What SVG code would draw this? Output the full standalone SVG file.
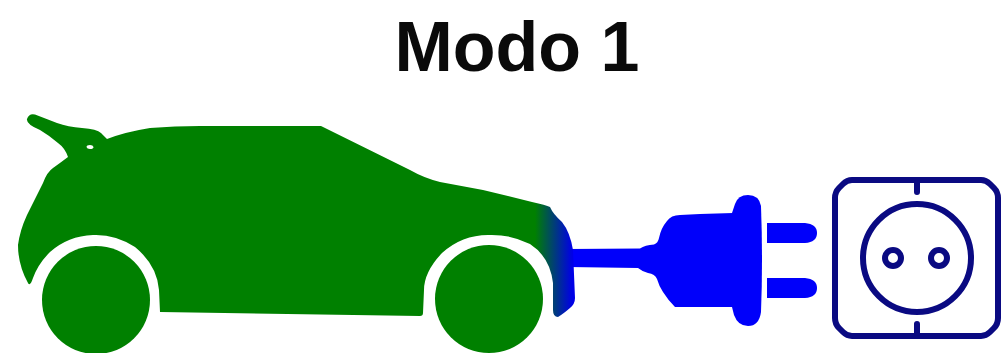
<svg xmlns="http://www.w3.org/2000/svg" width="1008" height="353" viewBox="0 0 1008 353">
<style>
.title{font-family:"Liberation Sans",Arial,sans-serif;font-weight:700;font-size:70px;fill:#0a0a0a}
.green{fill:#008000}
.blue{fill:#0000fa}
.navy{fill:none;stroke:#0a0a82;stroke-width:6;stroke-linecap:round;stroke-linejoin:round}
</style>
<defs>
<linearGradient id="carGrad" gradientUnits="userSpaceOnUse" x1="535" y1="0" x2="572" y2="0">
<stop offset="0" stop-color="#008000"/>
<stop offset="1" stop-color="#0000e6"/>
</linearGradient>
</defs>
<rect width="1008" height="353" fill="#ffffff"/>
<text class="title" x="517" y="71" text-anchor="middle">Modo 1</text>
<g id="connectors">
<path id="cable" class="blue" d="M568 249 L640 248.500 Q645 245 654 244.500 Q658 243 659 238 Q661 228 667 221 Q671 215 680 215 L700 214 L733 213 L733 300 L732 307 L700 307 L675 307 Q668 300 663 292 Q659 286 657 279 Q655 274 648 273 Q643 272 638 268 L568 267 Z"/>
</g>
<g id="car">
<path fill="url(#carGrad)" fill-rule="evenodd" d="M27 119 Q29 113 35 114.500 L57 123 Q68 127 82 128 Q97 129 101 133 L107 139 Q125 132 150 128 Q175 126 200 126 L321 126 L410 170 Q424 178 440 182 L483 190 L532 202 Q546 205 550 207 Q553 214 562 222 Q570 232 573 250 L575 298 Q575 304 570 308 Q563 314 558 317 Q553 317 553 310 L553 283 Q550 257 530 244 Q510 234 488 235 Q462 235 442 253 Q424 272 424 290 L423 313 Q423 316 420 316 L160 312 L159 290 Q157 265 135 247 Q115 234 93 235 Q68 236 50 252 Q38 264 33 278 Q30 287 28 283 Q18 265 18 245 Q20 230 27 215 L43 183 Q47 172 53 168 Q60 163 68 157 Q65 148 58 143 Q50 136 40 130 Q26 124 27 119 Z M90 145 Q86.500 145 86.500 147 Q87 149 90 149 Q93.500 149 93.500 147 Q93 145 90 145 Z"/>
<circle class="green" cx="96" cy="300" r="54"/>
<circle class="green" cx="489" cy="299" r="54"/>
</g>
<g id="plug">
<path class="blue" d="M732 213 L735 204 Q738 195 748 195 Q759 195 761 206 Q763 260 761 312 Q759 326 748 326 Q738 326 734 315 L732 307 L725 250 Z"/>
<path class="blue" d="M767 223 L805 223 Q817 224 817 233 Q817 242 805 243 L767 243 Z"/>
<path class="blue" d="M767 278 L805 278 Q817 279 817 288 Q817 297 805 298 L767 298 Z"/>
</g>
<g id="socket">
<path class="navy" d="M852 180 L981 180 Q986 180 990 184 L994 188 Q998 192 998 198 L998 318 Q998 324 994 328 L990 332 Q986 336 981 336 L852 336 Q847 336 843 332 L839 328 Q835 324 835 318 L835 198 Q835 192 839 188 L843 184 Q847 180 852 180 Z"/>
<path class="navy" d="M917 183 L917 192 M917 324 L917 333"/>
<circle class="navy" cx="917" cy="258" r="54"/>
<circle class="navy" cx="893" cy="258" r="8"/>
<circle class="navy" cx="939" cy="258" r="8"/>
</g>
</svg>
